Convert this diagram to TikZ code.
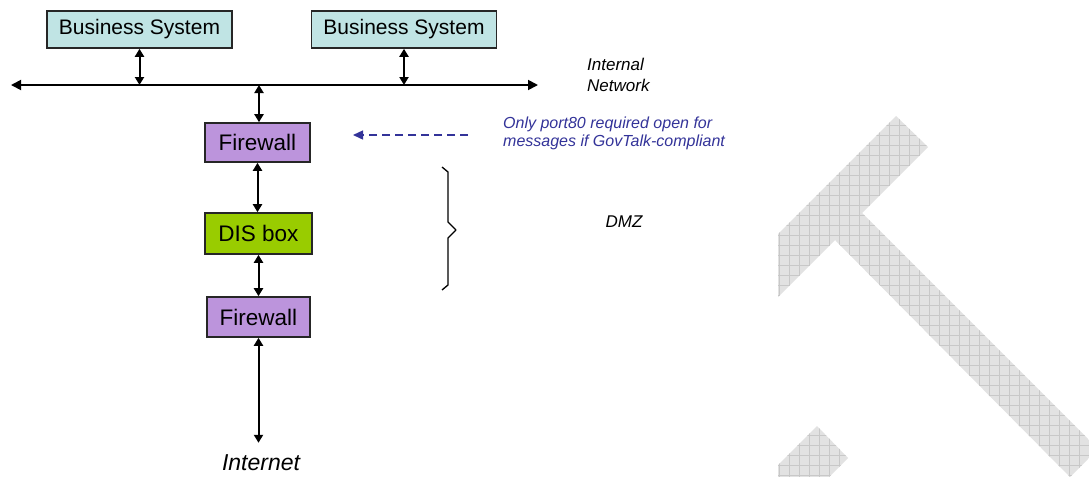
\documentclass[tikz,border=0pt]{standalone}
\usepackage{fontspec}
\setmainfont{Liberation Sans}
\usetikzlibrary{arrows.meta}
\definecolor{bizfill}{HTML}{C0E4E4}
\definecolor{fwfill}{HTML}{BC94DC}
\definecolor{disfill}{HTML}{99CC00}
\definecolor{notecol}{HTML}{333399}
\definecolor{hatchfill}{HTML}{E2E2E2}
\definecolor{hatchline}{HTML}{C8C8C8}

\begin{document}
\begin{tikzpicture}[x=1pt,y=-1pt,
  unit/.style={draw=black!85, line width=1.6pt, inner sep=0pt,
    font=\fontsize{22.5}{24}\selectfont},
  biz/.style={unit, fill=bizfill, minimum width=185pt, minimum height=37pt,
    font=\fontsize{21}{24}\selectfont},
  wall/.style={unit, fill=fwfill, minimum width=105pt, minimum height=39pt},
  dis/.style={unit, fill=disfill, minimum width=107pt, minimum height=41pt},
  link/.style={line width=2pt,
    {Triangle[length=8pt,width=9pt]}-{Triangle[length=8pt,width=9pt]}},
  bus/.style={line width=1.8pt,
    {Triangle[length=10pt,width=10pt]}-{Triangle[length=10pt,width=10pt]}},
  hint/.style={notecol, line width=1.4pt, dash pattern=on 8pt off 5pt,
    -{Triangle[length=10pt,width=9pt]}},
  tag/.style={inner sep=0pt, align=left, font=\itshape\fontsize{17}{21}\selectfont}]

% canvas
\fill[white] (0,0) rectangle (1089,477);
\useasboundingbox (0,0) rectangle (1089,477);

% cross-hatched grey shapes on the right
\begin{scope}
  \clip (896,116) -- (928,147) -- (862,213) -- (1089,440) -- (1089,458)
        -- (1070,477) -- (835,240) -- (778,297) -- (778,234) -- cycle
        (817,426) -- (848,458) -- (829,477) -- (778,477) -- (778,465) -- cycle;
  \fill[hatchfill] (770,100) rectangle (1089,477);
  \foreach \i in {779,789,...,1089}
    \draw[hatchline, line width=0.9pt] (\i,100) -- (\i,477);
  \foreach \j in {115,125,...,475}
    \draw[hatchline, line width=0.9pt] (770,\j) -- (1089,\j);
\end{scope}

% business systems and internal network bus
\node[biz] (bs1) at (139.5,29.5) {Business System};
\node[biz] (bs2) at (404,29.5) {Business System};
\coordinate (busL) at (11,85);
\coordinate (busR) at (538,85);
\coordinate (tap) at (259,85);
\draw[bus] (busL) -- (busR);
\draw[link] (bs1.south) -- (bs1.south |- busL);
\draw[link] (bs2.south) -- (bs2.south |- busL);

% DMZ chain
\node[wall] (fw1) at (257.5,142.5) {Firewall};
\node[dis]  (dis) at (258.5,233.5) {DIS box};
\node[wall, minimum width=103pt, minimum height=40pt] (fw2) at (258.5,317) {Firewall};
\node[tag, font=\itshape\fontsize{23}{26}\selectfont] (inet) at (261,463) {Internet};

\draw[link] (tap) -- (tap |- fw1.north);
\draw[link] (fw1.south) -- (fw1.south |- dis.north);
\draw[link] (dis.south) -- (dis.south |- fw2.north);
\draw[link] (fw2.south) -- ([yshift=12pt]fw2.south |- inet.north);

% labels
\node[tag, anchor=west] (net) at (587,75) {Internal\\Network};
\node[tag, anchor=west, notecol, font=\itshape\fontsize{16}{18}\selectfont]
  (note) at (503,133) {Only port80 required open for\\messages if GovTalk-compliant};
\node[tag] (dmz) at (624,222) {DMZ};

% dashed pointer to the outer firewall
\coordinate (hs) at (468,135);
\coordinate (he) at (353,135);
\draw[hint] (hs) -- (he);

% brace spanning the DMZ
\draw[line width=1.3pt, line join=round]
  (442,167) -- (448,172) -- (448,222) -- (456,230) -- (448,238)
  -- (448,285) -- (442,290);
\end{tikzpicture}
\end{document}
